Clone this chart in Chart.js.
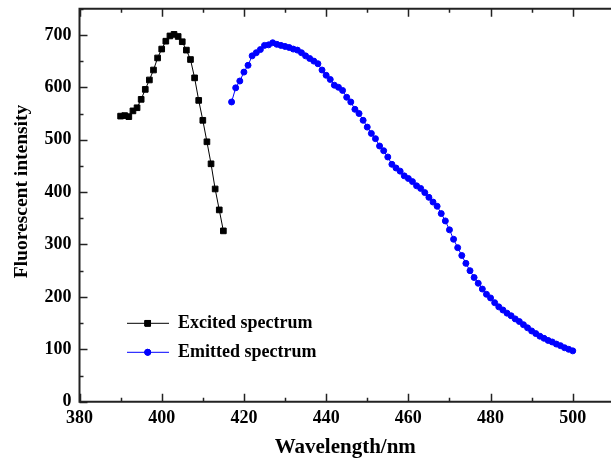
<!DOCTYPE html>
<html>
<head>
<meta charset="utf-8">
<script src="https://cdn.jsdelivr.net/npm/chart.js@4.4.0/dist/chart.umd.min.js"></script>
<style>html,body{margin:0;padding:0;background:#fff;overflow:hidden}</style>
</head>
<body>
<div style="width:611px;height:458px"><canvas id="c" width="611" height="458"></canvas></div>
<script>
// ---- data ----
const excitedWavelengths = [390,391,392,393,394,395,396,397,398,399,400,401,402,403,404,405,406,407,408,409,410,411,412,413,414,415];
const excitedIntensity   = [545,546,544,555,561,577,596,614,633,656,673,688,698,701,697,687,671,653,618,575,537,496,454,406,366,326];

const emittedWavelengths = [417,418,419,420,421,422,423,424,425,426,427,428,429,430,431,432,433,434,435,436,437,438,439,440,441,442,443,444,445,446,447,448,449,450,451,452,453,454,455,456,457,458,459,460,461,462,463,464,465,466,467,468,469,470,471,472,473,474,475,476,477,478,479,480,481,482,483,484,485,486,487,488,489,490,491,492,493,494,495,496,497,498,499,500];
const emittedIntensity   = [572,599,612,629,642,660,666,672,680,681,685,682,680,678,676,673,671,666,660,655,650,645,633,623,615,604,600,594,581,572,558,550,537,524,512,502,488,479,467,453,446,440,431,426,420,412,407,399,390,381,373,359,345,328,310,294,279,264,250,237,226,215,205,198,189,181,175,169,164,158,153,147,141,135,130,125,121,117,114,110,107,103,100,97];

const seriesNames = ['Excited spectrum', 'Emitted spectrum'];
const xTickValues = [380,390,400,410,420,430,440,450,460,470,480,490,500];
const xTickLabels = ['380','','400','','420','','440','','460','','480','','500'];
const yTickValues = [0,50,100,150,200,250,300,350,400,450,500,550,600,650,700,750];
const yTickLabels = ['0','','100','','200','','300','','400','','500','','600','','700',''];
const xTitle = 'Wavelength/nm';
const yTitle = 'Fluorescent intensity';

// ---- styling ----
const FONT = "'Liberation Serif','Times New Roman',serif";
Chart.defaults.font.family = FONT;
Chart.defaults.color = '#000';

const axisColor = '#222';

const decoPlugin = {
  id: 'deco',
  afterDraw(chart) {
    const ctx = chart.ctx;
    const xs = chart.scales.x, ys = chart.scales.y;
    const a = chart.chartArea;
    ctx.save();
    ctx.strokeStyle = axisColor;
    // inner tick marks
    ctx.lineWidth = 1.5;
    xTickValues.forEach((v, i) => {
      const px = Math.round(xs.getPixelForValue(v)) + 0.5;
      const len = xTickLabels[i] !== '' ? 8 : 4;
      ctx.beginPath();
      ctx.moveTo(px, a.bottom); ctx.lineTo(px, a.bottom - len);
      ctx.moveTo(px, a.top); ctx.lineTo(px, a.top + len);
      ctx.stroke();
    });
    yTickValues.forEach((v, i) => {
      const py = Math.round(ys.getPixelForValue(v)) + 0.5;
      const len = yTickLabels[i] !== '' ? 8 : 4;
      ctx.beginPath();
      ctx.moveTo(a.left, py); ctx.lineTo(a.left + len, py);
      ctx.stroke();
    });
    // axis lines
    ctx.lineWidth = 2;
    ctx.beginPath();
    ctx.moveTo(a.left, a.top); ctx.lineTo(a.right, a.top);
    ctx.moveTo(a.left, a.top - 1); ctx.lineTo(a.left, a.bottom + 1);
    ctx.moveTo(a.left - 1, a.bottom); ctx.lineTo(a.right, a.bottom);
    ctx.stroke();

    // legend inside plot
    const items = chart.data.datasets;
    const legY = [323.3, 352.3];
    items.forEach((ds, i) => {
      const y = legY[i];
      ctx.strokeStyle = ds.borderColor;
      ctx.lineWidth = 1;
      ctx.beginPath();
      ctx.moveTo(127, y); ctx.lineTo(169, y);
      ctx.stroke();
      Chart.helpers.drawPoint(ctx, {
        pointStyle: ds.pointStyle, radius: ds.pointRadius, borderWidth: ds.pointBorderWidth, rotation: 0
      }, 147.7, y);
      ctx.fillStyle = ds.pointBackgroundColor;
      ctx.strokeStyle = ds.borderColor;
      ctx.fill();
      ctx.stroke();
      ctx.fillStyle = '#000';
      ctx.font = "bold 18px " + FONT;
      ctx.textAlign = 'left';
      ctx.textBaseline = 'middle';
      ctx.fillText(ds.label, 178, y + 0.5);
    });

    // y axis title
    ctx.save();
    ctx.translate(22, 191.5);
    ctx.rotate(-Math.PI / 2);
    ctx.fillStyle = '#000';
    ctx.font = "bold 19.5px " + FONT;
    ctx.textAlign = 'center';
    ctx.textBaseline = 'middle';
    ctx.fillText(yTitle, 0, 0);
    ctx.restore();
    ctx.restore();
  }
};

const toPoints = (xsArr, ysArr) => xsArr.map((x, i) => ({ x: x, y: ysArr[i] }));

new Chart(document.getElementById('c'), {
  type: 'line',
  data: {
    datasets: [
      {
        label: seriesNames[0],
        data: toPoints(excitedWavelengths, excitedIntensity),
        borderColor: '#000',
        backgroundColor: '#000',
        pointBackgroundColor: '#000',
        pointStyle: 'rect',
        pointRadius: 4,
        pointBorderWidth: 1,
        borderWidth: 1,
        tension: 0
      },
      {
        label: seriesNames[1],
        data: toPoints(emittedWavelengths, emittedIntensity),
        borderColor: '#0000ff',
        backgroundColor: '#0000ff',
        pointBackgroundColor: '#0000ff',
        pointStyle: 'circle',
        pointRadius: 3,
        pointBorderWidth: 1,
        borderWidth: 1,
        tension: 0
      }
    ]
  },
  options: {
    responsive: false,
    animation: false,
    devicePixelRatio: 1,
    layout: { autoPadding: false, padding: { top: 8.7, left: 0, right: 0, bottom: 0 } },
    plugins: { legend: { display: false }, tooltip: { enabled: false } },
    scales: {
      x: {
        type: 'linear',
        min: 380,
        max: 509.3,
        afterBuildTicks: s => { s.ticks = xTickValues.map(v => ({ value: v })); },
        afterFit: s => { s.height = 56.3; s.paddingLeft = 0; s.paddingRight = 0; },
        grid: { display: false, drawTicks: false },
        border: { display: false },
        ticks: {
          autoSkip: false, maxRotation: 0, padding: 6, color: '#000',
          font: { size: 18, weight: 'bold' },
          callback: (v) => { const i = xTickValues.indexOf(v); return i >= 0 ? xTickLabels[i] : ''; }
        },
        title: {
          display: true, text: xTitle, color: '#000',
          font: { size: 21, weight: 'bold', lineHeight: 1 },
          padding: { top: 0, bottom: 0 }
        }
      },
      y: {
        type: 'linear',
        min: 0,
        max: 750,
        afterBuildTicks: s => { s.ticks = yTickValues.map(v => ({ value: v })); },
        afterFit: s => { s.width = 79.5; s.paddingTop = 0; s.paddingBottom = 0; },
        grid: { display: false, drawTicks: false },
        border: { display: false },
        ticks: {
          autoSkip: false, padding: 8, color: '#000',
          font: { size: 18, weight: 'bold' },
          callback: (v) => { const i = yTickValues.indexOf(v); return i >= 0 ? yTickLabels[i] : ''; }
        }
      }
    }
  },
  plugins: [decoPlugin]
});
</script>
</body>
</html>
